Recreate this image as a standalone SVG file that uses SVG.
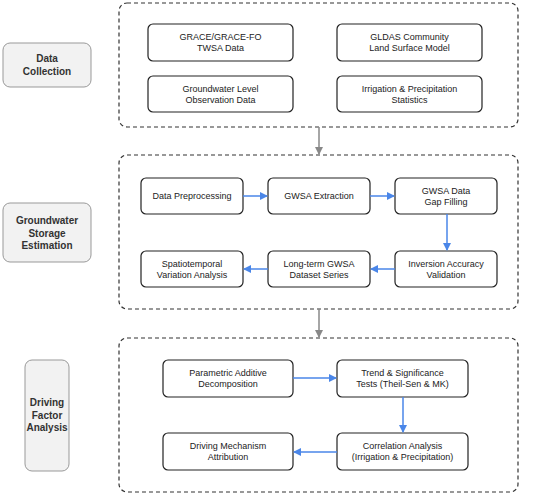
<svg xmlns="http://www.w3.org/2000/svg" width="550" height="495" viewBox="0 0 550 495">
<defs>
<style>
.cont{fill:none;stroke:#333;stroke-width:1.2;stroke-dasharray:4 3}
.node{fill:#fff;stroke:#222;stroke-width:1.2}
.lab{fill:#f2f2f2;stroke:#999;stroke-width:1}
.nt{font-family:"Liberation Sans",Arial,sans-serif;font-size:9px;fill:#222;text-anchor:middle}
.lt{font-family:"Liberation Sans",Arial,sans-serif;font-size:10px;font-weight:bold;fill:#333;text-anchor:middle}
.blue{stroke:#4a86e8;stroke-width:1.5;fill:none}
.gray{stroke:#888;stroke-width:1.5;fill:none}
</style>
<marker id="ab" markerWidth="8" markerHeight="8" refX="7" refY="4" orient="auto" markerUnits="userSpaceOnUse"><path d="M0,0 L8,4 L0,8 Z" fill="#4a86e8"/></marker>
<marker id="ag" markerWidth="8" markerHeight="8" refX="7" refY="4" orient="auto" markerUnits="userSpaceOnUse"><path d="M0,0 L8,4 L0,8 Z" fill="#888"/></marker>
</defs>
<rect width="550" height="495" fill="#fff"/>

<g id="containers">
<rect id="stage1" class="cont" x="119" y="3" width="399" height="124" rx="8"/>
<rect id="stage2" class="cont" x="119" y="155" width="399" height="154" rx="8"/>
<rect id="stage3" class="cont" x="119" y="338" width="399" height="154" rx="8"/>
</g>

<g id="label-data-collection"><rect class="lab" x="3" y="43" width="88" height="44" rx="7"/><text class="lt" x="47" y="62">Data</text><text class="lt" x="47" y="75">Collection</text></g>
<g id="label-gws"><rect class="lab" x="3" y="203" width="88" height="59" rx="7"/><text class="lt" x="47" y="224">Groundwater</text><text class="lt" x="47" y="236.5">Storage</text><text class="lt" x="47" y="249">Estimation</text></g>
<g id="label-dfa"><rect class="lab" x="25" y="360" width="44" height="111" rx="7"/><text class="lt" x="47" y="406">Driving</text><text class="lt" x="47" y="418.5">Factor</text><text class="lt" x="47" y="431">Analysis</text></g>

<g id="n-grace"><rect class="node" x="148" y="24" width="145" height="37" rx="5"/><text class="nt" x="220.5" y="40">GRACE/GRACE-FO</text><text class="nt" x="220.5" y="51">TWSA Data</text></g>
<g id="n-gldas"><rect class="node" x="337" y="24" width="145" height="37" rx="5"/><text class="nt" x="409.5" y="40">GLDAS Community</text><text class="nt" x="409.5" y="51">Land Surface Model</text></g>
<g id="n-gwl"><rect class="node" x="148" y="76" width="145" height="36" rx="5"/><text class="nt" x="220.5" y="92">Groundwater Level</text><text class="nt" x="220.5" y="103">Observation Data</text></g>
<g id="n-irr"><rect class="node" x="337" y="76" width="145" height="36" rx="5"/><text class="nt" x="409.5" y="92">Irrigation &amp; Precipitation</text><text class="nt" x="409.5" y="103">Statistics</text></g>

<g id="n-prep"><rect class="node" x="141" y="178" width="102" height="36" rx="5"/><text class="nt" x="192" y="199">Data Preprocessing</text></g>
<g id="n-extr"><rect class="node" x="268" y="178" width="102" height="36" rx="5"/><text class="nt" x="319" y="199">GWSA Extraction</text></g>
<g id="n-gap"><rect class="node" x="395" y="178" width="102" height="36" rx="5"/><text class="nt" x="446" y="194">GWSA Data</text><text class="nt" x="446" y="205">Gap Filling</text></g>
<g id="n-valid"><rect class="node" x="395" y="251" width="102" height="36" rx="5"/><text class="nt" x="446" y="267">Inversion Accuracy</text><text class="nt" x="446" y="278">Validation</text></g>
<g id="n-long"><rect class="node" x="268" y="251" width="102" height="36" rx="5"/><text class="nt" x="319" y="267">Long-term GWSA</text><text class="nt" x="319" y="278">Dataset Series</text></g>
<g id="n-spat"><rect class="node" x="141" y="251" width="102" height="36" rx="5"/><text class="nt" x="192" y="267">Spatiotemporal</text><text class="nt" x="192" y="278">Variation Analysis</text></g>

<g id="n-pad"><rect class="node" x="163" y="360" width="130" height="37" rx="5"/><text class="nt" x="228" y="376">Parametric Additive</text><text class="nt" x="228" y="387">Decomposition</text></g>
<g id="n-trend"><rect class="node" x="337" y="360" width="131" height="37" rx="5"/><text class="nt" x="402.5" y="376">Trend &amp; Significance</text><text class="nt" x="402.5" y="387">Tests (Theil-Sen &amp; MK)</text></g>
<g id="n-corr"><rect class="node" x="337" y="433" width="131" height="37" rx="5"/><text class="nt" x="402.5" y="449">Correlation Analysis</text><text class="nt" x="402.5" y="460">(Irrigation &amp; Precipitation)</text></g>
<g id="n-drive"><rect class="node" x="163" y="433" width="130" height="37" rx="5"/><text class="nt" x="228" y="449">Driving Mechanism</text><text class="nt" x="228" y="460">Attribution</text></g>

<g id="connectors">
<line class="gray" x1="319" y1="127" x2="319" y2="154" marker-end="url(#ag)"/>
<line class="gray" x1="319" y1="309" x2="319" y2="337" marker-end="url(#ag)"/>
<line class="blue" x1="243" y1="196" x2="267" y2="196" marker-end="url(#ab)"/>
<line class="blue" x1="370" y1="196" x2="394" y2="196" marker-end="url(#ab)"/>
<line class="blue" x1="447" y1="214" x2="447" y2="250" marker-end="url(#ab)"/>
<line class="blue" x1="395" y1="269" x2="371" y2="269" marker-end="url(#ab)"/>
<line class="blue" x1="268" y1="269" x2="244" y2="269" marker-end="url(#ab)"/>
<line class="blue" x1="293" y1="378" x2="336" y2="378" marker-end="url(#ab)"/>
<line class="blue" x1="403" y1="397" x2="403" y2="432" marker-end="url(#ab)"/>
<line class="blue" x1="337" y1="452" x2="294" y2="452" marker-end="url(#ab)"/>
</g>
</svg>
